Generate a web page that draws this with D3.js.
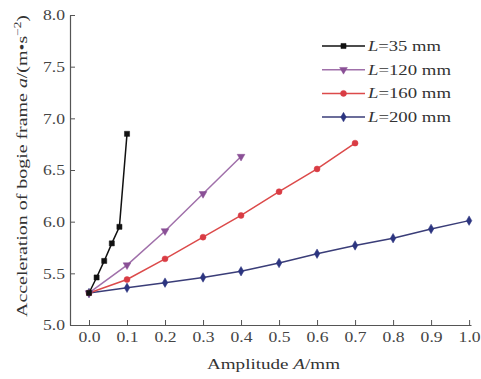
<!DOCTYPE html>
<html>
<head>
<meta charset="utf-8">
<script src="https://cdn.jsdelivr.net/npm/d3@7"></script>
<style>
  body { margin: 0; background: #fff; }
  svg { display: block; font-family: "Liberation Serif", "Times New Roman", serif; }
</style>
</head>
<body>
<div id="chart"></div>
<script>
// Bogie frame acceleration vs. amplitude, four L values

const xTicks = [0, 0.1, 0.2, 0.3, 0.4, 0.5, 0.6, 0.7, 0.8, 0.9, 1.0]
const yTicks = [5.0, 5.5, 6.0, 6.5, 7.0, 7.5, 8.0]

const seriesNames = ['35', '120', '160', '200']
const seriesColors = ['#111111', '#a070aa', '#dc4a4a', '#3a3d78']
const markerColors = ['#111111', '#8a5096', '#d93c44', '#2c3580']
const markerShapes = ['square', 'triangle', 'circle', 'diamond']

const ampL35 = [0, 0.02, 0.04, 0.06, 0.08, 0.1]
const accL35 = [5.31, 5.46, 5.62, 5.79, 5.95, 6.85]

const ampL120 = [0, 0.1, 0.2, 0.3, 0.4]
const accL120 = [5.31, 5.58, 5.91, 6.27, 6.63]

const ampL160 = [0, 0.1, 0.2, 0.3, 0.4, 0.5, 0.6, 0.7]
const accL160 = [5.31, 5.44, 5.64, 5.85, 6.06, 6.29, 6.51, 6.76]

const ampL200 = [0, 0.1, 0.2, 0.3, 0.4, 0.5, 0.6, 0.7, 0.8, 0.9, 1.0]
const accL200 = [5.31, 5.36, 5.41, 5.46, 5.52, 5.60, 5.69, 5.77, 5.84, 5.93, 6.01]

const series = [
  [ampL35, accL35],
  [ampL120, accL120],
  [ampL160, accL160],
  [ampL200, accL200]
].map(([xs, ys], i) => ({
  name: seriesNames[i],
  color: seriesColors[i],
  marker: markerColors[i],
  shape: markerShapes[i],
  points: xs.map((x, j) => ({ x, y: ys[j] }))
}))

const width = 481
const height = 379

const svg = d3.select('#chart')
  .append('svg')
  .attr('width', width)
  .attr('height', height)

const x = d3.scaleLinear().domain([-0.05, 1.005]).range([70, 471])
const y = d3.scaleLinear().domain([5.0, 8.0]).range([325, 15])

const axisColor = '#555'

// Axes, ticks pointing inward
const xAxis = svg.append('g')
  .attr('transform', `translate(0,${y(5.0)})`)
  .call(d3.axisBottom(x)
    .tickValues(xTicks)
    .tickFormat(d3.format('.1f'))
    .tickSizeInner(-5)
    .tickSizeOuter(0)
    .tickPadding(6))

const yAxis = svg.append('g')
  .attr('transform', `translate(${x(-0.05)},0)`)
  .call(d3.axisLeft(y)
    .tickValues(yTicks)
    .tickFormat(d3.format('.1f'))
    .tickSizeInner(-5)
    .tickSizeOuter(0)
    .tickPadding(5))

for (const ax of [xAxis, yAxis]) {
  ax.select('.domain').attr('stroke', axisColor).attr('stroke-width', 1.2)
  ax.selectAll('.tick line').attr('stroke', axisColor)
  ax.selectAll('.tick text')
    .attr('fill', '#444')
    .attr('font-size', '15px')
    .attr('font-family', '"Liberation Serif", serif')
    .attr('textLength', 22)
    .attr('lengthAdjust', 'spacingAndGlyphs')
}

// Axis titles (the original type is set wide, so stretch to its length)
svg.append('text')
  .attr('x', 207)
  .attr('y', 369)
  .attr('font-size', '15px')
  .attr('fill', '#333')
  .attr('textLength', 133)
  .attr('lengthAdjust', 'spacingAndGlyphs')
  .call(t => {
    t.append('tspan').text('Amplitude ')
    t.append('tspan').attr('font-style', 'italic').text('A')
    t.append('tspan').text('/mm')
  })

svg.append('text')
  .attr('transform', 'translate(27,317) rotate(-90)')
  .attr('font-size', '15px')
  .attr('fill', '#333')
  .attr('textLength', 302)
  .attr('lengthAdjust', 'spacingAndGlyphs')
  .call(t => {
    t.append('tspan').text('Acceleration of  bogie frame  ')
    t.append('tspan').attr('font-style', 'italic').text('a')
    t.append('tspan').text('/(m\u2022s')
    t.append('tspan').attr('font-size', '10px').attr('dy', -6).text('\u22122')
    t.append('tspan').attr('dy', 6).text(')')
  })

// Marker drawing
const symbolFor = {
  square: d3.symbol(d3.symbolSquare, 26),
  triangle: d3.symbol(d3.symbolTriangle, 26),
  circle: d3.symbol(d3.symbolCircle, 28),
  diamond: d3.symbol(d3.symbolDiamond, 26)
}

function drawMarker(sel, s) {
  sel.append('path')
    .attr('d', symbolFor[s.shape]())
    .attr('transform', d => `translate(${d[0]},${d[1]})${s.shape === 'triangle' ? ' rotate(180)' : ''}`)
    .attr('fill', s.marker)
    .attr('stroke', s.marker)
    .attr('stroke-width', 0.5)
}

const line = d3.line().x(d => x(d.x)).y(d => y(d.y))

// Draw in reverse so the black series is on top
series.slice().reverse().forEach(s => {
  const g = svg.append('g')
  g.append('path')
    .datum(s.points)
    .attr('d', line)
    .attr('fill', 'none')
    .attr('stroke', s.color)
    .attr('stroke-width', 1.5)

  g.selectAll('g.pt')
    .data(s.points.map(p => [x(p.x), y(p.y)]))
    .join('g')
    .attr('class', 'pt')
    .each(function () { drawMarker(d3.select(this), s) })
})

// Legend
const legendWidths = [73, 83, 83, 83]
const legend = svg.append('g').attr('transform', 'translate(322,46)')
series.forEach((s, i) => {
  const row = legend.append('g').attr('transform', `translate(0,${i * 23.7})`)
  row.append('line')
    .attr('x1', 0).attr('x2', 43)
    .attr('stroke', s.color)
    .attr('stroke-width', 1.5)
  const m = row.append('g').datum([21.5, 0])
  drawMarker(m, s)
  row.append('text')
    .attr('x', 46)
    .attr('y', 5)
    .attr('font-size', '15px')
    .attr('fill', '#333')
    .attr('textLength', legendWidths[i])
    .attr('lengthAdjust', 'spacingAndGlyphs')
    .call(t => {
      t.append('tspan').attr('font-style', 'italic').text('L')
      t.append('tspan').text(`=${s.name} mm`)
    })
})
</script>
</body>
</html>
